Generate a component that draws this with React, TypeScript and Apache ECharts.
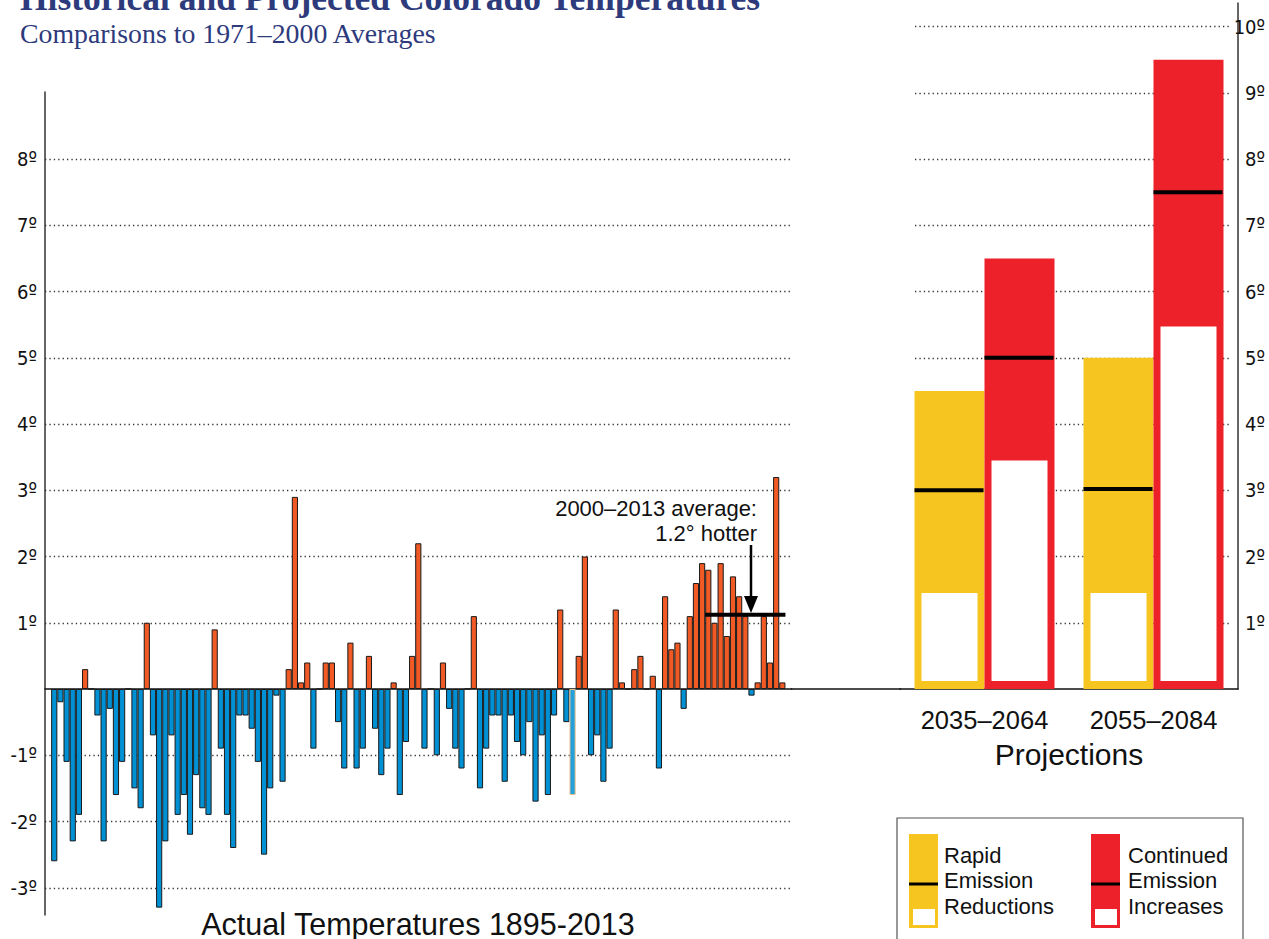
import React, { useEffect, useRef } from 'react';
import * as echarts from 'echarts';

// ---------- DATA ----------
const YEARS = [
  1895, 1896, 1897, 1898, 1899, 1900, 1901, 1902, 1903, 1904,
  1905, 1906, 1907, 1908, 1909, 1910, 1911, 1912, 1913, 1914,
  1915, 1916, 1917, 1918, 1919, 1920, 1921, 1922, 1923, 1924,
  1925, 1926, 1927, 1928, 1929, 1930, 1931, 1932, 1933, 1934,
  1935, 1936, 1937, 1938, 1939, 1940, 1941, 1942, 1943, 1944,
  1945, 1946, 1947, 1948, 1949, 1950, 1951, 1952, 1953, 1954,
  1955, 1956, 1957, 1958, 1959, 1960, 1961, 1962, 1963, 1964,
  1965, 1966, 1967, 1968, 1969, 1970, 1971, 1972, 1973, 1974,
  1975, 1976, 1977, 1978, 1979, 1980, 1981, 1982, 1983, 1984,
  1985, 1986, 1987, 1988, 1989, 1990, 1991, 1992, 1993, 1994,
  1995, 1996, 1997, 1998, 1999, 2000, 2001, 2002, 2003, 2004,
  2005, 2006, 2007, 2008, 2009, 2010, 2011, 2012, 2013,
];

const ANOMALIES = [
  -2.6, -0.2, -1.1, -2.3, -1.9, 0.3, 0, -0.4, -2.3, -0.3,
  -1.6, -1.1, 0, -1.5, -1.8, 1.0, -0.7, -3.3, -2.3, -0.7,
  -1.9, -1.6, -2.2, -1.3, -1.8, -1.9, 0.9, -0.9, -1.9, -2.4,
  -0.4, -0.4, -0.6, -1.1, -2.5, -1.5, -0.1, -1.4, 0.3, 2.9,
  0.1, 0.4, -0.9, 0, 0.4, 0.4, -0.5, -1.2, 0.7, -1.2,
  -0.9, 0.5, -0.6, -1.3, -0.9, 0.1, -1.6, -0.8, 0.5, 2.2,
  -0.9, 0, -1.0, 0.4, -0.3, -0.9, -1.2, 0, 1.1, -1.5,
  -0.9, -0.4, -0.4, -1.4, -0.4, -0.8, -1.0, -0.5, -1.7, -0.7,
  -1.6, -0.4, 1.2, -0.5, -1.6, 0.5, 2.0, -1.0, -0.7, -1.4,
  -0.9, 1.2, 0.1, 0, 0.3, 0.5, 0, 0.2, -1.2, 1.4,
  0.6, 0.7, -0.3, 1.1, 1.6, 1.9, 1.8, 1.0, 1.9, 0.8,
  1.7, 1.4, 1.1, -0.1, 0.1, 1.1, 0.4, 3.2, 0.1,
];

const HIGHLIGHT_YEAR = 1979;

const AVG_START_YEAR = 2001;
const AVG_END_YEAR = 2013;
const AVG_VALUE = 1.12;

const LEFT_TICKS = [-3, -2, -1, 1, 2, 3, 4, 5, 6, 7, 8];

const PERIODS = ['2035–2064', '2055–2084'];
const RAPID_LOW = [1.45, 1.45];
const RAPID_MID = [3.0, 3.02];
const RAPID_HIGH = [4.5, 5.0];
const CONT_LOW = [3.45, 5.47];
const CONT_MID = [5.0, 7.5];
const CONT_HIGH = [6.5, 9.5];

// ---------- STYLE ----------
const ORANGE = '#F15A24';
const BLUE = '#0091D5';
const HL_BLUE = '#239FD9';
const HL_BORDER = '#E9C08F';
const YELLOW = '#F7C520';
const RED = '#ED2129';
const NAVY = '#2D3A7C';
const SANS = '"Liberation Sans", Arial, Helvetica, sans-serif';
const NARROW = '"Liberation Sans Narrow", "Arial Narrow", "DejaVu Sans Condensed", "Liberation Sans", sans-serif';
const SERIF = '"Liberation Serif", "Times New Roman", serif';

export default function App() {
  const ref = useRef<HTMLDivElement>(null);

  useEffect(() => {
    document.body.style.margin = '0';
    document.body.style.overflow = 'hidden';
    document.documentElement.style.overflow = 'hidden';
    const el = ref.current;
    if (!el) return;
    const chart = echarts.init(el, undefined, { renderer: 'svg' });

    const cats = ['', ...YEARS.map(String), ''];
    const barData: any[] = [
      null,
      ...ANOMALIES.map((v, i) =>
        YEARS[i] === HIGHLIGHT_YEAR
          ? { value: v, itemStyle: { color: HL_BLUE, borderColor: HL_BORDER } }
          : v
      ),
      null,
    ];
    const padIdx = (y: number) => YEARS.indexOf(y) + 1;

    const projData: number[][] = [];
    PERIODS.forEach((_, i) => {
      projData.push([i, 0, RAPID_LOW[i], RAPID_MID[i], RAPID_HIGH[i]]);
      projData.push([i, 1, CONT_LOW[i], CONT_MID[i], CONT_HIGH[i]]);
    });

    const dotted = { type: [1.3, 3.1] as any, color: '#333', width: 1.3 };

    const option: any = {
      animation: false,
      backgroundColor: '#fff',
      grid: [
        { left: 45, top: 26.5, width: 746.6, height: 927.5 },
        { left: 45, top: 92, width: 2, height: 823 },
        { left: 900, top: 3, width: 338, height: 686 },
        { left: 915, top: 3, width: 316, height: 686 },
      ],
      xAxis: [
        {
          gridIndex: 0, type: 'category', data: cats,
          axisLine: { onZero: true, lineStyle: { color: '#111', width: 1.5 } },
          axisTick: { show: false }, axisLabel: { show: false }, splitLine: { show: false },
        },
        { gridIndex: 1, type: 'value', show: false },
        {
          gridIndex: 2, type: 'category', data: PERIODS,
          axisLine: { lineStyle: { color: '#111', width: 1.5 } },
          axisTick: { show: false },
          axisLabel: { color: '#111', fontSize: 25.5, fontFamily: SANS, margin: 31, verticalAlign: 'middle' },
          splitLine: { show: false },
        },
        { gridIndex: 3, type: 'value', show: false },
      ],
      yAxis: [
        {
          gridIndex: 0, type: 'value', min: -4, max: 10, interval: 1,
          axisLine: { show: false }, axisTick: { show: false }, splitLine: { show: false },
          axisLabel: {
            margin: 8, fontSize: 20, fontFamily: NARROW, color: '#111',
            formatter: (v: number) => (LEFT_TICKS.includes(v) ? `${v}º` : ''),
          },
        },
        {
          gridIndex: 1, type: 'value', min: 0, max: 1,
          axisLine: { show: true, lineStyle: { color: '#333', width: 1.5 } },
          axisTick: { show: false }, axisLabel: { show: false }, splitLine: { show: false },
        },
        {
          gridIndex: 2, type: 'value', position: 'right', min: 0, max: 10.355, interval: 1,
          axisLine: { show: true, lineStyle: { color: '#333', width: 1.5 } },
          axisTick: { show: false }, splitLine: { show: false },
          axisLabel: {
            margin: 27, align: 'right', fontSize: 20, fontFamily: NARROW, color: '#111',
            formatter: (v: number) => (Number.isInteger(v) && v > 0 ? `${v}º` : ''),
          },
        },
        {
          gridIndex: 3, type: 'value', min: 0, max: 10.355, interval: 1,
          axisLine: { show: false }, axisTick: { show: false }, axisLabel: { show: false },
          splitLine: { show: true, showMinLine: false, showMaxLine: false, lineStyle: dotted },
        },
      ],
      series: [
        {
          type: 'bar', xAxisIndex: 0, yAxisIndex: 0, data: barData,
          barCategoryGap: '0%',
          itemStyle: {
            color: (p: any) => (p.value >= 0 ? ORANGE : BLUE),
            borderColor: '#1a1a1a', borderWidth: 1,
          },
          markLine: {
            silent: true, symbol: ['none', 'none'], label: { show: false },
            lineStyle: dotted,
            data: LEFT_TICKS.map((v) => ({ yAxis: v })),
            z: 1,
          },
          z: 2,
        },
        {
          type: 'custom', xAxisIndex: 0, yAxisIndex: 0, silent: true, z: 5,
          data: [[padIdx(AVG_START_YEAR), padIdx(AVG_END_YEAR), AVG_VALUE]],
          encode: { x: [0, 1], y: 2 },
          renderItem: (params: any, api: any) => {
            const a = api.coord([api.value(0), api.value(2)]);
            const b = api.coord([api.value(1), api.value(2)]);
            const hw = api.size([1, 0])[0] / 2;
            return {
              type: 'line',
              shape: { x1: a[0] - hw, y1: a[1], x2: b[0] + hw, y2: b[1] },
              style: { stroke: '#000', lineWidth: 4 },
            };
          },
        },
        {
          type: 'custom', xAxisIndex: 2, yAxisIndex: 2, silent: true, z: 3,
          data: projData,
          encode: { x: 0, y: [2, 3, 4] },
          renderItem: (params: any, api: any) => {
            const cat = api.value(0);
            const s = api.value(1);
            const base = api.coord([cat, 0]);
            const low = api.coord([cat, api.value(2)])[1];
            const mid = api.coord([cat, api.value(3)])[1];
            const top = api.coord([cat, api.value(4)])[1];
            const w = 70;
            const x0 = base[0] - w + s * w;
            const color = s === 0 ? YELLOW : RED;
            return {
              type: 'group',
              children: [
                { type: 'rect', shape: { x: x0, y: top, width: w, height: base[1] - top }, style: { fill: color } },
                { type: 'rect', shape: { x: x0 + 7, y: low, width: w - 14, height: base[1] - 8 - low }, style: { fill: '#fff' } },
                { type: 'line', shape: { x1: x0, y1: mid, x2: x0 + w - 1, y2: mid }, style: { stroke: '#000', lineWidth: 4 } },
              ],
            };
          },
        },
      ],
      graphic: [
        {
          type: 'text', x: 20, y: -2,
          style: { text: 'Historical and Projected Colorado Temperatures', font: `bold 35.5px ${SERIF}`, fill: NAVY, verticalAlign: 'middle' },
        },
        {
          type: 'text', x: 20, y: 33,
          style: { text: 'Comparisons to 1971–2000 Averages', font: `27.8px ${SERIF}`, fill: NAVY, verticalAlign: 'middle' },
        },
        {
          type: 'line', shape: { x1: 791, y1: 689, x2: 901, y2: 689 }, style: { stroke: '#111', lineWidth: 1.5 },
        },
        {
          type: 'text', x: 418, y: 924,
          style: { text: 'Actual Temperatures 1895-2013', font: `30.5px ${SANS}`, fill: '#111', align: 'center', verticalAlign: 'middle' },
        },
        {
          type: 'text', x: 1069, y: 754,
          style: { text: 'Projections', font: `30px ${SANS}`, fill: '#111', align: 'center', verticalAlign: 'middle' },
        },
        {
          type: 'text', x: 757, y: 508,
          style: { text: '2000–2013 average:', font: `22px ${SANS}`, fill: '#111', align: 'right', verticalAlign: 'middle' },
        },
        {
          type: 'text', x: 757, y: 533,
          style: { text: '1.2° hotter', font: `22px ${SANS}`, fill: '#111', align: 'right', verticalAlign: 'middle' },
        },
        {
          type: 'line', shape: { x1: 751, y1: 545, x2: 751, y2: 600 }, style: { stroke: '#000', lineWidth: 2.5 },
        },
        {
          type: 'polygon', shape: { points: [[744, 596], [758, 596], [751, 613]] }, style: { fill: '#000' },
        },
        // legend
        {
          type: 'rect', shape: { x: 897, y: 818, width: 346, height: 140 }, style: { fill: '#fff', stroke: '#555', lineWidth: 1.2 }, z: 10,
        },
        { type: 'rect', shape: { x: 909, y: 834, width: 29, height: 94 }, style: { fill: YELLOW }, z: 11 },
        { type: 'rect', shape: { x: 913, y: 909, width: 22, height: 16 }, style: { fill: '#fff' }, z: 12 },
        { type: 'line', shape: { x1: 909, y1: 884, x2: 938, y2: 884 }, style: { stroke: '#000', lineWidth: 3 }, z: 12 },
        { type: 'rect', shape: { x: 1091, y: 834, width: 29, height: 94 }, style: { fill: RED }, z: 11 },
        { type: 'rect', shape: { x: 1095, y: 909, width: 22, height: 16 }, style: { fill: '#fff' }, z: 12 },
        { type: 'line', shape: { x1: 1091, y1: 884, x2: 1120, y2: 884 }, style: { stroke: '#000', lineWidth: 3 }, z: 12 },
        ...['Rapid', 'Emission', 'Reductions'].map((t, i) => ({
          type: 'text', x: 944, y: 855 + i * 25.5, z: 12,
          style: { text: t, font: `22px ${SANS}`, fill: '#111', verticalAlign: 'middle' },
        })),
        ...['Continued', 'Emission', 'Increases'].map((t, i) => ({
          type: 'text', x: 1128, y: 855 + i * 25.5, z: 12,
          style: { text: t, font: `22px ${SANS}`, fill: '#111', verticalAlign: 'middle' },
        })),
      ],
    };

    chart.setOption(option);
    return () => chart.dispose();
  }, []);

  return <div ref={ref} style={{ width: 1269, height: 960 }} />;
}
